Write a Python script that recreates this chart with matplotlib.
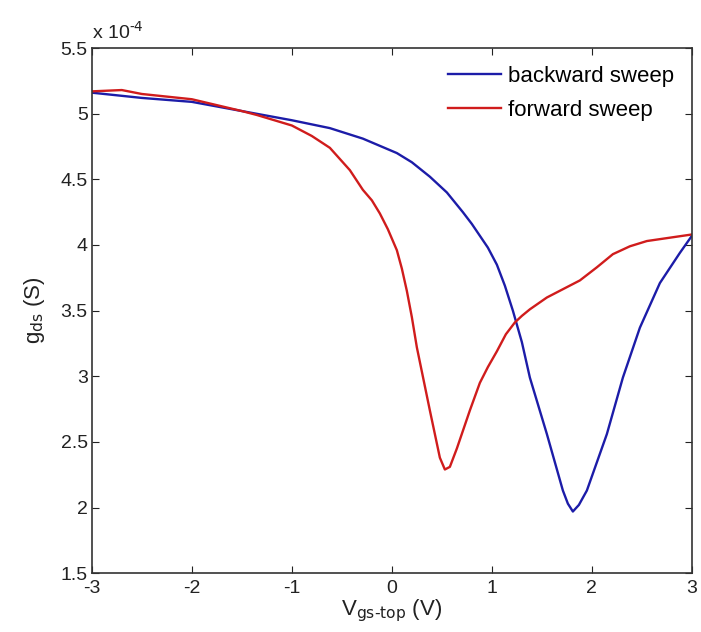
import numpy as np
import matplotlib
matplotlib.use('Agg')
from matplotlib import pyplot as plt
from matplotlib.ticker import FormatStrFormatter

plt.rcParams['font.family'] = ['Liberation Sans', 'DejaVu Sans']
plt.rcParams['axes.unicode_minus'] = False

# gate voltage (V) and conductance (units of 1e-4 S)
v_bwd = [-3.0, -2.5, -2.0, -1.5, -1.0, -0.62, -0.29, 0.05, 0.20, 0.38, 0.55, 0.71,
         0.80, 0.88, 0.96, 1.05, 1.13, 1.21, 1.30, 1.38, 1.55, 1.71, 1.76, 1.81,
         1.87, 1.95, 2.15, 2.31, 2.48, 2.68, 2.88, 3.0]
g_bwd = [5.16, 5.12, 5.09, 5.02, 4.95, 4.89, 4.81, 4.70, 4.63, 4.52, 4.40, 4.25,
         4.16, 4.07, 3.98, 3.85, 3.69, 3.50, 3.26, 2.99, 2.56, 2.13, 2.03, 1.97,
         2.02, 2.13, 2.56, 2.99, 3.37, 3.71, 3.94, 4.07]

v_fwd = [-3.0, -2.7, -2.5, -2.0, -1.5, -1.35, -1.0, -0.8, -0.62, -0.42, -0.29,
         -0.20, -0.12, -0.04, 0.05, 0.10, 0.15, 0.20, 0.25, 0.38, 0.48, 0.53,
         0.58, 0.65, 0.78, 0.88, 0.96, 1.05, 1.14, 1.23, 1.30, 1.38, 1.55, 1.88,
         2.05, 2.21, 2.38, 2.55, 3.0]
g_fwd = [5.17, 5.18, 5.15, 5.11, 5.02, 4.99, 4.91, 4.83, 4.74, 4.57, 4.42,
         4.34, 4.24, 4.12, 3.96, 3.82, 3.65, 3.45, 3.22, 2.74, 2.38, 2.29,
         2.31, 2.45, 2.74, 2.95, 3.07, 3.19, 3.32, 3.41, 3.46, 3.51, 3.60, 3.73,
         3.83, 3.93, 3.99, 4.03, 4.08]

x_ticks = [-3, -2, -1, 0, 1, 2, 3]
y_ticks = [1.5, 2, 2.5, 3, 3.5, 4, 4.5, 5, 5.5]

fig = plt.figure(figsize=(7.01, 6.32), dpi=100)
ax = fig.add_axes([0.131, 0.093, 0.856, 0.831])

ax.plot(v_bwd, g_bwd, color='#1c1ca8', lw=1.7, label='backward sweep')
ax.plot(v_fwd, g_fwd, color='#d01c1c', lw=1.7, label='forward sweep')

ax.set_xlim(-3, 3)
ax.set_ylim(1.5, 5.5)
ax.set_xticks(x_ticks)
ax.set_yticks(y_ticks)
ax.yaxis.set_major_formatter(FormatStrFormatter('%g'))
ax.tick_params(direction='in', top=True, right=True, length=5, labelsize=14,
               colors='#222222')
ax.tick_params(axis='x', pad=5)
ax.tick_params(axis='y', pad=3)
for s in ax.spines.values():
    s.set_color('#333333')
    s.set_linewidth(1.2)

# MATLAB-style shared exponent above the y axis
ax.text(0.0, 1.01, r'x 10$^{\text{-}4}$', transform=ax.transAxes, fontsize=14,
        color='#222222', ha='left', va='bottom')

ax.set_xlabel(r'V$_{\mathrm{gs\text{-}top}}$ (V)', fontsize=16, color='#222222', labelpad=0)
ax.set_ylabel(r'g$_{\mathrm{ds}}$ (S)', fontsize=16, color='#222222', labelpad=10)

ax.legend(loc='upper right', frameon=False, fontsize=16, handlelength=2.4,
          handletextpad=0.3, labelspacing=0.6, borderaxespad=0.4)

fig.savefig('out.png', dpi=100)
